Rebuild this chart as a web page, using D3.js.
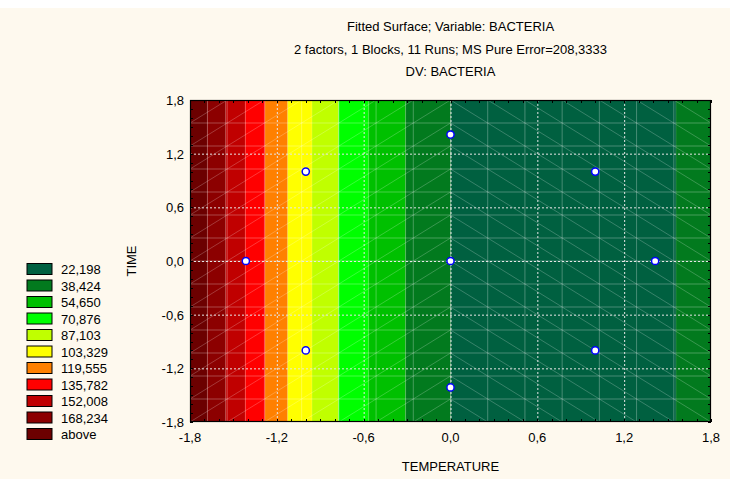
<!DOCTYPE html>
<html>
<head>
<meta charset="utf-8">
<script src="https://cdn.jsdelivr.net/npm/d3@7"></script>
<style>
  body { margin: 0; background: #fff; }
  svg { display: block; font-family: "Liberation Sans", Arial, sans-serif; }
</style>
</head>
<body>
<div id="chart"></div>
<script>
// Fitted surface contour (TIME vs TEMPERATURE), bands only vary with temperature

const titleLines = [
  "Fitted Surface; Variable: BACTERIA",
  "2 factors, 1 Blocks, 11 Runs; MS Pure Error=208,3333",
  "DV: BACTERIA"
];

// legend levels, lowest first
const levelLabels = ["22,198", "38,424", "54,650", "70,876", "87,103", "103,329",
  "119,555", "135,782", "152,008", "168,234", "above"];
const levelColors = ["#006040", "#027a1e", "#00c000", "#00ff00", "#c0ff00", "#ffff00",
  "#ff8000", "#ff0000", "#c00000", "#8c0000", "#6c0000"];

// contour band edges along TEMPERATURE and the level of each band
const bandEdges = [-1.8, -1.680, -1.553, -1.418, -1.282, -1.125, -0.957, -0.773, -0.565, -0.310, 0.003, 1.558, 1.8];
const bandLevel = [10, 9, 8, 7, 6, 5, 4, 3, 2, 1, 0, 1];

// design runs
const runTemp = [-1.414, -1, -1, 0, 0, 0, 1, 1, 1.414];
const runTime = [0, 1, -1, 1.414, 0, -1.414, 1, -1, 0];

const axisTicks = [-1.8, -1.2, -0.6, 0, 0.6, 1.2, 1.8];

const width = 730, height = 479;
const plot = { left: 190, right: 711, top: 100, bottom: 422 };
const meshN = 14;

const svg = d3.select("#chart").append("svg")
  .attr("width", width)
  .attr("height", height);

svg.append("rect")
  .attr("x", 0).attr("y", 8)
  .attr("width", width).attr("height", height - 8)
  .attr("fill", "#fef9ee");

const x = d3.scaleLinear().domain([-1.8, 1.8]).range([plot.left, plot.right]);
const y = d3.scaleLinear().domain([-1.8, 1.8]).range([plot.bottom, plot.top]);
const fmt = v => v.toFixed(1).replace(".", ",");

// bands
svg.append("g").selectAll("rect")
  .data(bandLevel)
  .join("rect")
  .attr("x", (d, i) => x(bandEdges[i]))
  .attr("y", y(1.8))
  .attr("width", (d, i) => x(bandEdges[i + 1]) - x(bandEdges[i]))
  .attr("height", y(-1.8) - y(1.8))
  .attr("fill", d => levelColors[d]);

// faint seams of the triangulated mesh
const mesh = svg.append("g")
  .attr("stroke", "#ffffff")
  .attr("stroke-opacity", 0.28)
  .attr("stroke-width", 1);
const step = 3.6 / meshN;
const meshVals = d3.range(meshN + 1).map(k => -1.8 + k * step);
meshVals.slice(1, -1).forEach(v => {
  mesh.append("line").attr("x1", x(v)).attr("x2", x(v)).attr("y1", y(-1.8)).attr("y2", y(1.8));
  mesh.append("line").attr("y1", y(v)).attr("y2", y(v)).attr("x1", x(-1.8)).attr("x2", x(1.8));
});
bandEdges.slice(1, -1).forEach(v => {
  mesh.append("line").attr("x1", x(v)).attr("x2", x(v)).attr("y1", y(-1.8)).attr("y2", y(1.8))
    .attr("stroke-opacity", 0.15);
});
const diag = mesh.append("g").attr("stroke-opacity", 0.22);
for (let i = 0; i < meshN; i++) {
  for (let j = 0; j < meshN; j++) {
    const t0 = meshVals[i], t1 = meshVals[i + 1];
    const s0 = meshVals[j], s1 = meshVals[j + 1];
    const up = t1 <= 0.001;
    diag.append("line")
      .attr("x1", x(t0)).attr("x2", x(t1))
      .attr("y1", up ? y(s0) : y(s1))
      .attr("y2", up ? y(s1) : y(s0));
  }
}

// major grid
const grid = svg.append("g")
  .attr("stroke", "#e6e6e6")
  .attr("stroke-width", 1)
  .attr("stroke-dasharray", "2,2");
axisTicks.slice(1, -1).forEach(v => {
  grid.append("line").attr("x1", x(v) + 0.5).attr("x2", x(v) + 0.5).attr("y1", y(-1.8)).attr("y2", y(1.8));
  grid.append("line").attr("y1", y(v) + 0.5).attr("y2", y(v) + 0.5).attr("x1", x(-1.8)).attr("x2", x(1.8));
});

// inward ticks on every side, each 0.1
const minor = d3.range(-18, 19).map(k => k / 10);
const ticks = svg.append("g").attr("stroke", "#000").attr("stroke-width", 1);
minor.forEach(v => {
  const xv = Math.round(x(v)) + 0.5, yv = Math.round(y(v)) + 0.5;
  ticks.append("line").attr("x1", xv).attr("x2", xv).attr("y1", plot.top).attr("y2", plot.top + 3);
  ticks.append("line").attr("x1", xv).attr("x2", xv).attr("y1", plot.bottom).attr("y2", plot.bottom - 3);
  ticks.append("line").attr("y1", yv).attr("y2", yv).attr("x1", plot.left).attr("x2", plot.left + 3);
  ticks.append("line").attr("y1", yv).attr("y2", yv).attr("x1", plot.right).attr("x2", plot.right - 3);
});

svg.append("rect")
  .attr("x", plot.left + 0.5).attr("y", plot.top + 0.5)
  .attr("width", plot.right - plot.left - 1).attr("height", plot.bottom - plot.top - 1)
  .attr("fill", "none")
  .attr("stroke", "#000")
  .attr("stroke-width", 1.2);

// design points
svg.append("g").selectAll("circle")
  .data(runTemp)
  .join("circle")
  .attr("cx", d => x(d))
  .attr("cy", (d, i) => y(runTime[i]))
  .attr("r", 3.6)
  .attr("fill", "#fff")
  .attr("stroke", "#0000ff")
  .attr("stroke-width", 1.5);

// tick labels
svg.append("g").selectAll("text")
  .data(axisTicks)
  .join("text")
  .attr("x", d => x(d))
  .attr("y", plot.bottom + 20)
  .attr("text-anchor", "middle")
  .attr("font-size", 13)
  .text(fmt);

svg.append("g").selectAll("text")
  .data(axisTicks)
  .join("text")
  .attr("x", plot.left - 6)
  .attr("y", d => y(d) + 5)
  .attr("text-anchor", "end")
  .attr("font-size", 13)
  .text(fmt);

// titles
svg.append("g").selectAll("text")
  .data(titleLines)
  .join("text")
  .attr("x", (plot.left + plot.right) / 2)
  .attr("y", (d, i) => 31 + i * 22.5)
  .attr("text-anchor", "middle")
  .attr("font-size", 13)
  .text(d => d);

svg.append("text")
  .attr("x", (plot.left + plot.right) / 2)
  .attr("y", 471)
  .attr("text-anchor", "middle")
  .attr("font-size", 13)
  .text("TEMPERATURE");

svg.append("text")
  .attr("transform", `translate(136, ${(plot.top + plot.bottom) / 2}) rotate(-90)`)
  .attr("text-anchor", "middle")
  .attr("font-size", 13)
  .text("TIME");

// legend
const legend = svg.append("g").selectAll("g")
  .data(levelLabels)
  .join("g")
  .attr("transform", (d, i) => `translate(27, ${263.5 + i * 16.5})`);
legend.append("rect")
  .attr("width", 25).attr("height", 11)
  .attr("fill", (d, i) => levelColors[i])
  .attr("stroke", "#000")
  .attr("stroke-width", 1);
legend.append("text")
  .attr("x", 34)
  .attr("y", 10.5)
  .attr("font-size", 13)
  .text(d => d);
</script>
</body>
</html>
